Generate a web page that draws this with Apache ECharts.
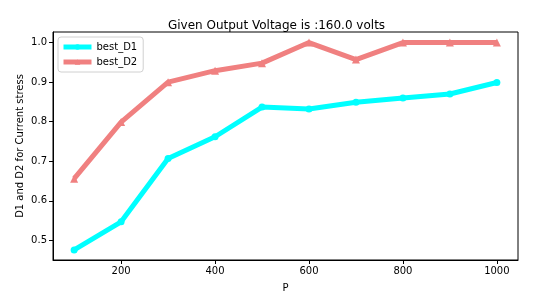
<!DOCTYPE html>
<html><head><meta charset="utf-8">
<script src="https://cdn.jsdelivr.net/npm/echarts@6/dist/echarts.min.js"></script>
<style>html,body{margin:0;padding:0;background:#fff}#c{width:553px;height:298px}</style>
</head><body><div id="c"></div>
<script>
const P = [100,200,300,400,500,600,700,800,900,1000];
const bestD1 = [0.476,0.547,0.707,0.762,0.837,0.832,0.849,0.860,0.870,0.899];
const bestD2 = [0.656,0.799,0.900,0.929,0.948,1.000,0.957,1.000,1.000,1.000];
const xTicks = [200,400,600,800,1000];
const yTicks = [0.5,0.6,0.7,0.8,0.9,1.0];
const font = 'DejaVu Sans';
const chart = echarts.init(document.getElementById('c'));
chart.setOption({
  animation:false,
  title:{text:'Given Output Voltage is :160.0 volts',left:'center',top:15,
    textStyle:{fontFamily:font,fontSize:12,fontWeight:'normal',color:'#000'}},
  grid:{left:53,right:35,top:32,bottom:35.5},
  legend:{left:58,top:37,orient:'vertical',itemWidth:28,itemHeight:7,itemGap:5,
    padding:[5,6,5,3],borderColor:'#d0d0d0',borderWidth:1,borderRadius:3,backgroundColor:'#fff',
    lineStyle:{width:5},
    textStyle:{fontFamily:font,fontSize:10,color:'#000'},
    data:['best_D1','best_D2']},
  xAxis:{type:'value',min:55,max:1045,name:'P',nameLocation:'middle',nameGap:23,nameMoveOverlap:false,
    nameTextStyle:{fontFamily:font,fontSize:10,color:'#000'},
    axisLine:{onZero:false,lineStyle:{color:'#000',width:1}},
    axisTick:{show:true,length:4,customValues:xTicks,lineStyle:{color:'#000'}},
    axisLabel:{customValues:xTicks,fontFamily:font,fontSize:10,color:'#000',margin:6,formatter:v=>String(v)},
    splitLine:{show:false}},
  yAxis:{type:'value',min:0.4505,max:1.0267,name:'D1 and D2 for Current stress',nameLocation:'middle',nameGap:28,nameMoveOverlap:false,
    nameTextStyle:{fontFamily:font,fontSize:10,color:'#000'},
    axisLine:{show:true,onZero:false,lineStyle:{color:'#000',width:1}},
    axisTick:{show:true,length:4,customValues:yTicks,lineStyle:{color:'#000'}},
    axisLabel:{customValues:yTicks,fontFamily:font,fontSize:10,color:'#000',margin:6,formatter:v=>v.toFixed(1)},
    splitLine:{show:false}},
  series:[
    {name:'best_D1',type:'line',data:P.map((p,i)=>[p,bestD1[i]]),symbol:'circle',symbolSize:7,
      lineStyle:{color:'#00ffff',width:5},itemStyle:{color:'#00ffff'},z:3},
    {name:'best_D2',type:'line',data:P.map((p,i)=>[p,bestD2[i]]),symbol:'triangle',symbolSize:8,
      lineStyle:{color:'#f08080',width:5},itemStyle:{color:'#f08080'},z:2}
  ]
});
const g = chart.getModel().getComponent('grid').coordinateSystem.getRect();
chart.setOption({graphic:[{type:'rect',shape:{x:g.x,y:g.y,width:g.width,height:g.height},
  style:{fill:'none',stroke:'#000',lineWidth:1},silent:true,z:-1}]});
</script>
</body></html>
